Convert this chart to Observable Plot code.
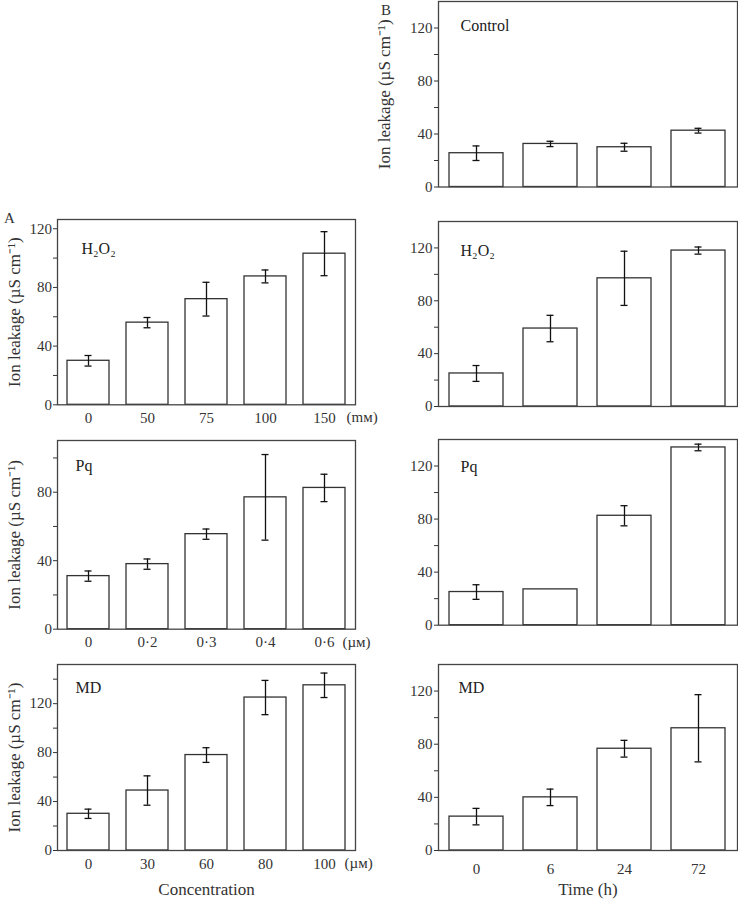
<!DOCTYPE html>
<html><head><meta charset="utf-8">
<script src="https://cdn.jsdelivr.net/npm/d3@7"></script>
<script src="https://cdn.jsdelivr.net/npm/@observablehq/plot@0.6"></script>
<style>
body{margin:0;background:#fff;}
#root{position:relative;width:738px;height:899px;overflow:hidden;font-family:"Liberation Serif",serif;}
#root svg{position:absolute;overflow:visible;background:transparent;}
.lbl{position:absolute;font:15px "Liberation Serif",serif;color:#333;line-height:1;}
</style></head><body><div id="root"></div>
<script>
// Panel A: concentration series
const concH2O2 = ["0","50","75","100","150"];
const concH2O2Val = [30,56,72,87.5,103];
const concH2O2Err = [3.6,3.5,11.5,4.4,15];
const concPq = ["0","0·2","0·3","0·4","0·6"];
const concPqVal = [31,38,55.5,77,82.5];
const concPqErr = [3,3,3,25,8];
const concMD = ["0","30","60","80","100"];
const concMDVal = [30,49,78,125,135];
const concMDErr = [3.8,12,6,14,10];
// Panel B: time series
const timeLabels = ["0","6","24","72"];
const timeControlVal = [25.5,32.5,30,42.5];
const timeControlErr = [5.5,2,3,1.8];
const timeH2O2Val = [25,59,97,118];
const timeH2O2Err = [6,10,20.5,2.7];
const timePqVal = [25,27,82.5,134];
const timePqErr = [5.5,0,7.6,2.5];
const timeMDVal = [25.5,40,76.6,92];
const timeMDErr = [6.2,6.2,6.3,25.3];
const yTitle = "Ion leakage (µS cm⁻¹)";

const root = document.getElementById("root");

function panel(o){
  const data = o.cats.map((c,i)=>({c, v:o.vals[i], e:o.errs[i]}));
  const err = data.filter(d=>d.e>0);
  const mt = 12;
  const frameH = o.bottom - o.top;
  const width = o.left === 0 ? 372 : 366;
  const ml = o.left === 0 ? 57 : 66;
  const mr = o.left === 0 ? 17 : 1;
  const mb = o.mb;
  const capInset = o.left === 0 ? 17.5 : 23.5;
  const marks = [
    Plot.barY(data,{x:"c",y:"v",fill:"white",stroke:"#333",strokeWidth:1.3}),
    Plot.ruleX(err,{x:"c",y1:d=>d.v-d.e,y2:d=>d.v+d.e,stroke:"#111",strokeWidth:1.3}),
    Plot.tickY(err,{x:"c",y:d=>d.v+d.e,stroke:"#111",strokeWidth:1.3,insetLeft:capInset,insetRight:capInset}),
    Plot.tickY(err,{x:"c",y:d=>d.v-d.e,stroke:"#111",strokeWidth:1.3,insetLeft:capInset,insetRight:capInset}),
    Plot.frame({stroke:"#444",strokeWidth:1.3}),
    Plot.axisY({ticks:d3.range(0,o.ymax,20),tickFormat:d=>d%40===0?String(d):"",tickSize:4,tickPadding:o.left===0?1.5:2,
      label:o.ylabel?yTitle:null,labelAnchor:"center",labelArrow:"none",labelOffset:o.left===0?50:61}),
    Plot.text([o.name],{text:d=>d,frameAnchor:"top-left",dx:o.nx,dy:o.ny,textAnchor:"start",lineAnchor:"middle",fontSize:16,fill:"#222"})
  ];
  if (o.xlabels) {
    marks.push(Plot.axisX({tickSize:0,tickPadding:o.xPad,label:o.xtitle||null,labelAnchor:"center",labelArrow:"none",labelOffset:o.xtOff||40}));
  }
  if (o.unit) {
    marks.push(Plot.text([o.unit],{text:d=>d,frameAnchor:"bottom-right",dx:o.udx,dy:o.udy,textAnchor:"start",lineAnchor:"middle",fontSize:15,fill:"#333"}));
  }
  const svg = Plot.plot({
    width, height: mt + frameH + mb,
    marginLeft: ml, marginRight: mr, marginTop: mt, marginBottom: mb,
    x:{type:"band",domain:o.cats,paddingInner:o.left===0?0.28:0.27,paddingOuter:o.left===0?0.14:0.135,axis:o.xlabels?undefined:null},
    y:{domain:[0,o.ymax]},
    style:{fontFamily:'"Liberation Serif", serif',fontSize:"15px",color:"#333",background:"transparent",overflow:"visible"},
    marks
  });
  d3.select(svg).selectAll('g[aria-label="y-axis label"] text, g[aria-label="x-axis label"] text').attr("font-size","17px");
  svg.style.left = o.left + "px";
  svg.style.top = (o.top - mt) + "px";
  root.appendChild(svg);
}

// Left column (A)
panel({left:0,top:219,bottom:404.3,ymax:126.3,cats:concH2O2,vals:concH2O2Val,errs:concH2O2Err,name:"H₂O₂",nx:24,ny:29,
  ylabel:true,xlabels:true,xPad:7.5,mb:30,unit:"(mᴍ)",udx:-9,udy:12.5});
panel({left:0,top:440,bottom:628.7,ymax:110.2,cats:concPq,vals:concPqVal,errs:concPqErr,name:"Pq",nx:18,ny:25,
  ylabel:true,xlabels:true,xPad:7.5,mb:30,unit:"(µᴍ)",udx:-13,udy:12.5});
panel({left:0,top:664,bottom:850,ymax:152,cats:concMD,vals:concMDVal,errs:concMDErr,name:"MD",nx:18,ny:23,
  ylabel:true,xlabels:true,xPad:7.5,mb:49,xtitle:"Concentration",xtOff:44,unit:"(µᴍ)",udx:-11,udy:13});

// Right column (B)
panel({left:372,top:1,bottom:186.5,ymax:140,cats:timeLabels,vals:timeControlVal,errs:timeControlErr,name:"Control",nx:22,ny:24,
  ylabel:true,xlabels:false,mb:10});
panel({left:372,top:220.7,bottom:405.7,ymax:140,cats:timeLabels,vals:timeH2O2Val,errs:timeH2O2Err,name:"H₂O₂",nx:22,ny:29,
  ylabel:false,xlabels:false,mb:10});
panel({left:372,top:439.3,bottom:625,ymax:140,cats:timeLabels,vals:timePqVal,errs:timePqErr,name:"Pq",nx:22,ny:27,
  ylabel:false,xlabels:false,mb:10});
panel({left:372,top:664,bottom:850,ymax:140,cats:timeLabels,vals:timeMDVal,errs:timeMDErr,name:"MD",nx:20,ny:23,
  ylabel:false,xlabels:true,xPad:13,mb:49,xtitle:"Time (h)",xtOff:44});

// Panel letters
const A = document.createElement("div"); A.className="lbl"; A.textContent="A"; A.style.left="4px"; A.style.top="211px"; root.appendChild(A);
const B = document.createElement("div"); B.className="lbl"; B.textContent="B"; B.style.left="381px"; B.style.top="3px"; root.appendChild(B);
</script>
</body></html>
